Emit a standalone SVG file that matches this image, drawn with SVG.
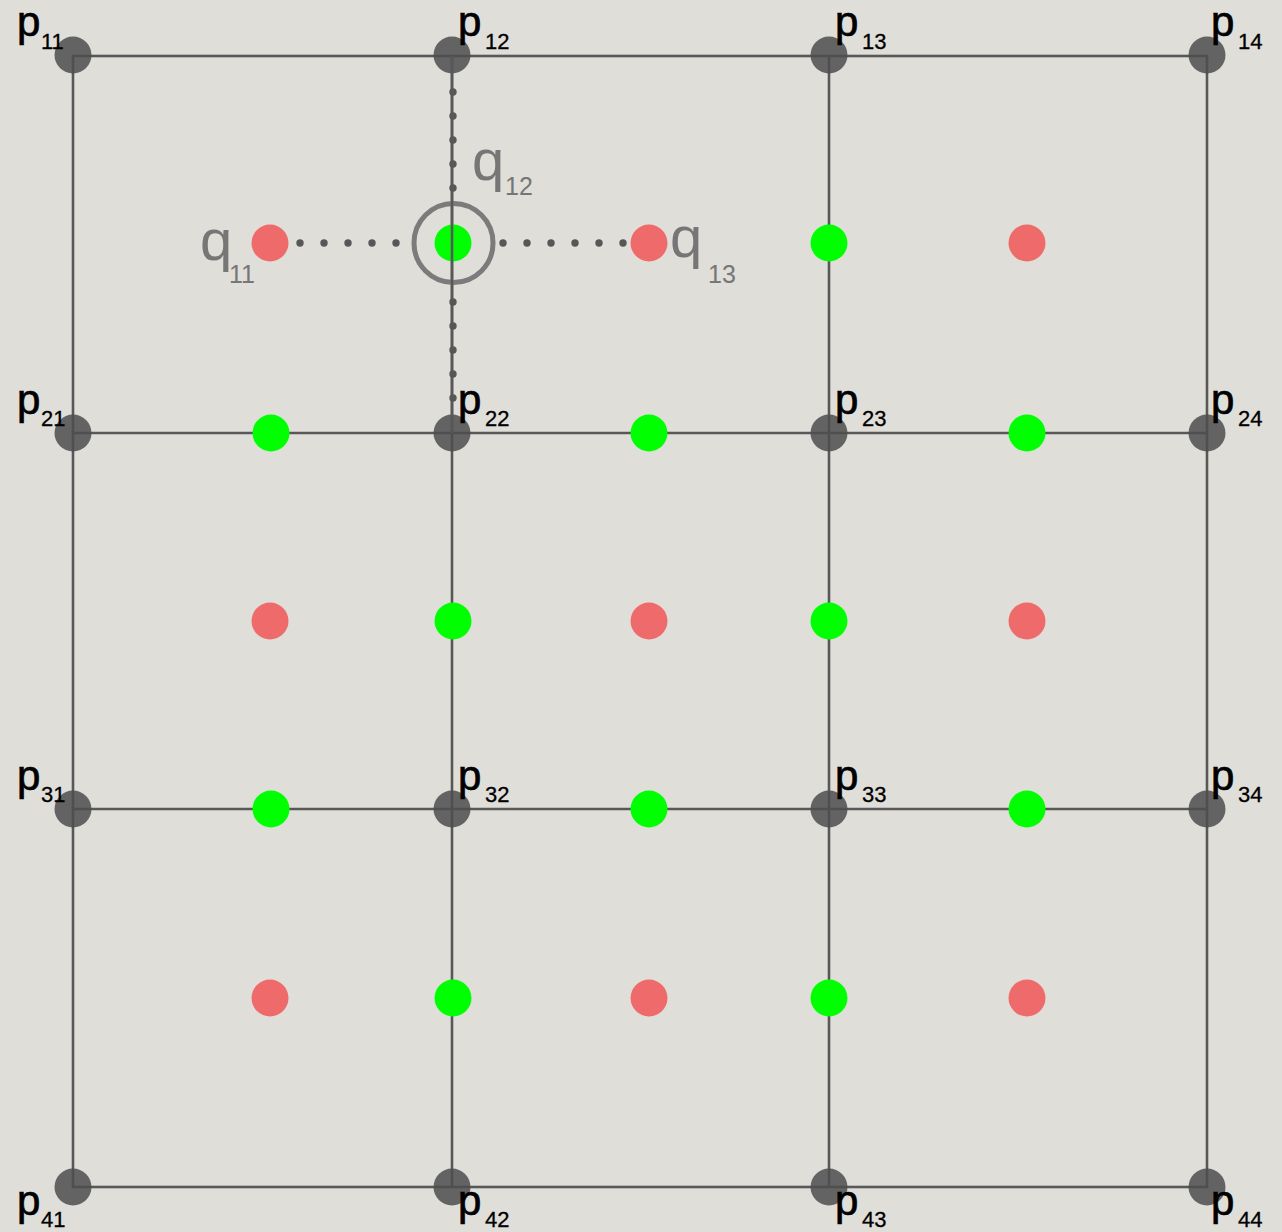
<svg xmlns="http://www.w3.org/2000/svg" width="1282" height="1232" viewBox="0 0 1282 1232">
<style>
.p{font-family:"Liberation Sans",Arial,sans-serif;font-size:42px;fill:#000;stroke:#000;stroke-width:0.7}
.ps{font-family:"Liberation Sans",Arial,sans-serif;font-size:22px;fill:#000;stroke:#000;stroke-width:0.3}
.q{font-family:"Liberation Sans",Arial,sans-serif;font-size:58px;fill:#767676}
.qs{font-family:"Liberation Sans",Arial,sans-serif;font-size:25px;fill:#767676}
.grid{stroke:#585858;stroke-width:2.6;fill:none}
.node{fill:#4e4e4e;fill-opacity:0.85}
.g{fill:#00ff00}
.r{fill:#ef6b6b}
.dot{fill:#575757}
</style>
<rect width="1282" height="1232" fill="#dfded9"/>
<g id="connectors">
<rect class="grid" x="73" y="56" width="1134" height="1131"/>
<line class="grid" x1="452" y1="56" x2="452" y2="1187"/>
<line class="grid" x1="829" y1="56" x2="829" y2="1187"/>
<line class="grid" x1="73" y1="433" x2="1207" y2="433"/>
<line class="grid" x1="73" y1="809" x2="1207" y2="809"/>
</g>
<g id="p11"><circle class="node" cx="73" cy="55" r="18.5"/></g>
<g id="p12"><circle class="node" cx="452" cy="55" r="18.5"/></g>
<g id="p13"><circle class="node" cx="829" cy="55" r="18.5"/></g>
<g id="p14"><circle class="node" cx="1207" cy="55" r="18.5"/></g>
<g id="p21"><circle class="node" cx="73" cy="433" r="18.5"/></g>
<g id="p22"><circle class="node" cx="452" cy="433" r="18.5"/></g>
<g id="p23"><circle class="node" cx="829" cy="433" r="18.5"/></g>
<g id="p24"><circle class="node" cx="1207" cy="433" r="18.5"/></g>
<g id="p31"><circle class="node" cx="73" cy="809" r="18.5"/></g>
<g id="p32"><circle class="node" cx="452" cy="809" r="18.5"/></g>
<g id="p33"><circle class="node" cx="829" cy="809" r="18.5"/></g>
<g id="p34"><circle class="node" cx="1207" cy="809" r="18.5"/></g>
<g id="p41"><circle class="node" cx="73" cy="1187" r="18.5"/></g>
<g id="p42"><circle class="node" cx="452" cy="1187" r="18.5"/></g>
<g id="p43"><circle class="node" cx="829" cy="1187" r="18.5"/></g>
<g id="p44"><circle class="node" cx="1207" cy="1187" r="18.5"/></g>
<g id="green">
<circle class="g" cx="453" cy="243" r="18.5"/><circle class="g" cx="829" cy="243" r="18.5"/>
<circle class="g" cx="271" cy="433" r="18.5"/><circle class="g" cx="649" cy="433" r="18.5"/><circle class="g" cx="1027" cy="433" r="18.5"/>
<circle class="g" cx="453" cy="621" r="18.5"/><circle class="g" cx="829" cy="621" r="18.5"/>
<circle class="g" cx="271" cy="809" r="18.5"/><circle class="g" cx="649" cy="809" r="18.5"/><circle class="g" cx="1027" cy="809" r="18.5"/>
<circle class="g" cx="453" cy="998" r="18.5"/><circle class="g" cx="829" cy="998" r="18.5"/>
</g>
<g id="red">
<circle class="r" cx="270" cy="243" r="18.5"/><circle class="r" cx="649" cy="243" r="18.5"/><circle class="r" cx="1027" cy="243" r="18.5"/>
<circle class="r" cx="270" cy="621" r="18.5"/><circle class="r" cx="649" cy="621" r="18.5"/><circle class="r" cx="1027" cy="621" r="18.5"/>
<circle class="r" cx="270" cy="998" r="18.5"/><circle class="r" cx="649" cy="998" r="18.5"/><circle class="r" cx="1027" cy="998" r="18.5"/>
</g>
<g id="ring"><circle cx="453.5" cy="243" r="39.5" fill="none" stroke="#7b7b7b" stroke-width="5"/></g>
<g id="dotted">
<line class="grid" x1="452" y1="56" x2="452" y2="433"/>
<circle class="dot" cx="300" cy="243" r="3.7"/><circle class="dot" cx="324" cy="243" r="3.7"/><circle class="dot" cx="348" cy="243" r="3.7"/><circle class="dot" cx="372" cy="243" r="3.7"/><circle class="dot" cx="396" cy="243" r="3.7"/>
<circle class="dot" cx="503" cy="243" r="3.7"/><circle class="dot" cx="527" cy="243" r="3.7"/><circle class="dot" cx="551" cy="243" r="3.7"/><circle class="dot" cx="575" cy="243" r="3.7"/><circle class="dot" cx="599" cy="243" r="3.7"/><circle class="dot" cx="623" cy="243" r="3.7"/>
<circle class="dot" cx="453" cy="92" r="3.7"/><circle class="dot" cx="453" cy="116" r="3.7"/><circle class="dot" cx="453" cy="140" r="3.7"/><circle class="dot" cx="453" cy="164" r="3.7"/><circle class="dot" cx="453" cy="188" r="3.7"/>
<circle class="dot" cx="453" cy="302" r="3.7"/><circle class="dot" cx="453" cy="326" r="3.7"/><circle class="dot" cx="453" cy="350" r="3.7"/><circle class="dot" cx="453" cy="374" r="3.7"/><circle class="dot" cx="453" cy="398" r="3.7"/>
</g>
<g id="labels">
<text class="p" x="17" y="36">p</text><text class="ps" x="41" y="49">11</text>
<text class="p" x="458" y="36">p</text><text class="ps" x="485" y="49">12</text>
<text class="p" x="835" y="36">p</text><text class="ps" x="862" y="49">13</text>
<text class="p" x="1211" y="36">p</text><text class="ps" x="1238" y="49">14</text>
<text class="p" x="17" y="414">p</text><text class="ps" x="41" y="426">21</text>
<text class="p" x="458" y="414">p</text><text class="ps" x="485" y="426">22</text>
<text class="p" x="835" y="414">p</text><text class="ps" x="862" y="426">23</text>
<text class="p" x="1211" y="414">p</text><text class="ps" x="1238" y="426">24</text>
<text class="p" x="17" y="790">p</text><text class="ps" x="41" y="802">31</text>
<text class="p" x="458" y="790">p</text><text class="ps" x="485" y="802">32</text>
<text class="p" x="835" y="790">p</text><text class="ps" x="862" y="802">33</text>
<text class="p" x="1211" y="790">p</text><text class="ps" x="1238" y="802">34</text>
<text class="p" x="17" y="1215">p</text><text class="ps" x="41" y="1227">41</text>
<text class="p" x="458" y="1215">p</text><text class="ps" x="485" y="1227">42</text>
<text class="p" x="835" y="1215">p</text><text class="ps" x="862" y="1227">43</text>
<text class="p" x="1211" y="1215">p</text><text class="ps" x="1238" y="1227">44</text>
<text class="q" x="200" y="260">q</text><text class="qs" x="229" y="283">11</text>
<text class="q" x="472" y="180">q</text><text class="qs" x="505" y="195">12</text>
<text class="q" x="670" y="257">q</text><text class="qs" x="708" y="283">13</text>
</g>
</svg>
